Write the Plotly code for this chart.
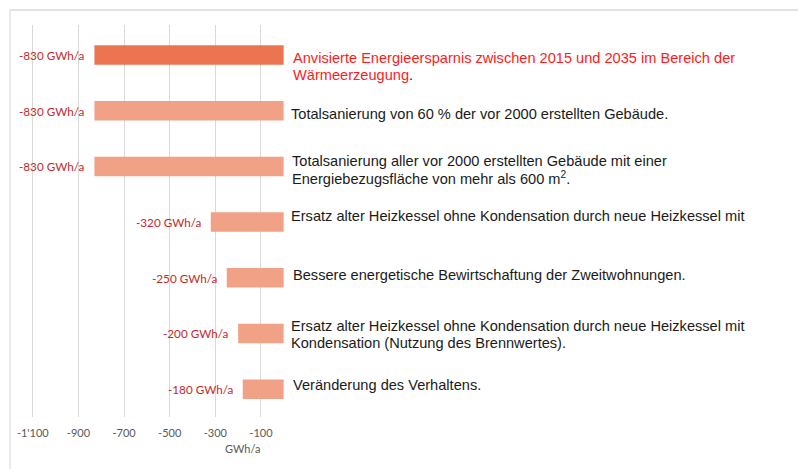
import plotly.graph_objects as go

# Data
categories = [
    "Ziel 2035",
    "Totalsanierung 60 %",
    "Totalsanierung > 600 m2",
    "Ersatz Heizkessel",
    "Zweitwohnungen",
    "Kondensation",
    "Verhalten",
]
values = [-830, -830, -830, -320, -250, -200, -180]
value_labels = ["-830 GWh/a", "-830 GWh/a", "-830 GWh/a", "-320 GWh/a",
                "-250 GWh/a", "-200 GWh/a", "-180 GWh/a"]
descriptions = [
    "<span style='color:#FF1A1A'>Anvisierte Energieersparnis zwischen 2015 und 2035 im Bereich der</span>"
    "<br><span style='color:#FF1A1A'>Wärmeerzeugung</span>.",
    "Totalsanierung von 60 % der vor 2000 erstellten Gebäude.",
    "Totalsanierung aller vor 2000 erstellten Gebäude mit einer<br>Energiebezugsfläche von mehr als 600 m<sup>2</sup>.",
    "Ersatz alter Heizkessel ohne Kondensation durch neue Heizkessel mit",
    "Bessere energetische Bewirtschaftung der Zweitwohnungen.",
    "Ersatz alter Heizkessel ohne Kondensation durch neue Heizkessel mit<br>Kondensation (Nutzung des Brennwertes).",
    "Veränderung des Verhaltens.",
]
tick_vals = [-1100, -900, -700, -500, -300, -100]
tick_text = ["-1'100", "-900", "-700", "-500", "-300", "-100"]
axis_title = "GWh/a"

bar_colors = ["#EC7450"] + ["#F1A186"] * 6

fig = go.Figure()
fig.add_trace(go.Bar(
    x=values, y=categories, orientation="h",
    marker=dict(color=bar_colors, line=dict(width=0)),
    width=0.35, hoverinfo="skip",
))

annotations = []
# value labels (left of bars)
for c, v, t in zip(categories, values, value_labels):
    annotations.append(dict(
        x=v, y=c, xref="x", yref="y", text=t, showarrow=False,
        xanchor="right", yanchor="middle", xshift=-7,
        font=dict(family="Lato, sans-serif", size=11.7, color="#C62828"),
    ))
# descriptions (right of bars), one annotation per text line
first_line_shift = [-3, -3, 5, 6, 3, 7, 4]   # pixel offset of first line vs bar centre
desc_xshift = [7, 5, 6, 5, 7, 5, 7]
line_gap = 17
for c, d, ys, xs in zip(categories, descriptions, first_line_shift, desc_xshift):
    for k, line in enumerate(d.split("<br>")):
        annotations.append(dict(
            x=0, y=c, xref="x", yref="y", text=line, showarrow=False,
            xanchor="left", yanchor="middle", align="left",
            xshift=xs, yshift=ys - k * line_gap,
            font=dict(family="Liberation Sans, Arial, sans-serif", size=14.6, color="#1A1A1A"),
        ))
# axis title
annotations.append(dict(
    x=-183, y=0, xref="x", yref="paper", yshift=-31, text=axis_title,
    showarrow=False, xanchor="center", yanchor="middle",
    font=dict(family="Lato, sans-serif", size=11, color="#595959"),
))

# page body has an 8px offset; margins compensate for it
m_l, m_t, plot_h = 2, 17, 392
fig.update_layout(
    width=806, height=469,
    margin=dict(l=m_l, r=0, t=m_t, b=469 - m_t - plot_h),
    paper_bgcolor="white", plot_bgcolor="white",
    showlegend=False,
    annotations=annotations,
    xaxis=dict(
        range=[-1200, 0], domain=[0, 273.8 / (806 - m_l)],
        tickvals=tick_vals, ticktext=tick_text,
        showgrid=True, gridcolor="#D9D9D9", gridwidth=1,
        zeroline=False, showline=False,
        ticks="outside", ticklen=6, tickcolor="rgba(0,0,0,0)",
        tickfont=dict(family="Lato, sans-serif", size=11, color="#595959"),
    ),
    yaxis=dict(
        autorange="reversed", showticklabels=False, showgrid=False,
        zeroline=False, showline=False, ticks="",
    ),
)
# frame lines (top and left)
fig.add_shape(type="line", xref="paper", yref="paper",
              x0=0, x1=1.02, y0=1 + 15 / plot_h, y1=1 + 15 / plot_h,
              line=dict(color="#E3E3E3", width=2), layer="below")
fig.add_shape(type="line", xref="paper", yref="paper",
              x0=0, x1=0, y0=-60 / plot_h, y1=1 + 15 / plot_h,
              line=dict(color="#E3E3E3", width=1.5), layer="below")

fig.write_html("out.html")
